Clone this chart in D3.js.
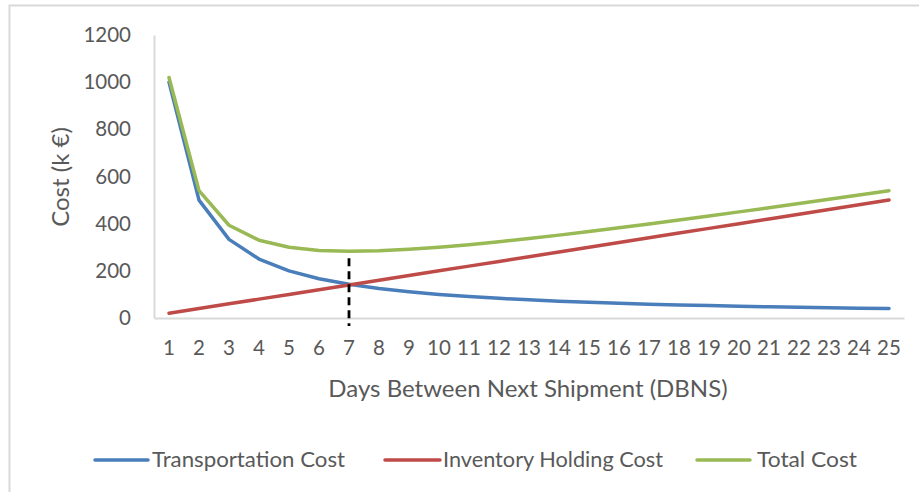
<!DOCTYPE html>
<html><head><meta charset="utf-8">
<script src="https://cdn.jsdelivr.net/npm/d3@7"></script>
<style>body{margin:0;background:#fff}svg{display:block}text{font-family:Lato,"Open Sans",sans-serif;fill:#595959}</style>
</head><body><svg id="c" width="919" height="492"></svg>
<script>
const days = [1,2,3,4,5,6,7,8,9,10,11,12,13,14,15,16,17,18,19,20,21,22,23,24,25];
const transportation = [1000,500,333.3,250,200,166.7,142.9,125,111.1,100,90.9,83.3,76.9,71.4,66.7,62.5,58.8,55.6,52.6,50,47.6,45.5,43.5,41.7,40];
const inventory = [20,40,60,80,100,120,140,160,180,200,220,240,260,280,300,320,340,360,380,400,420,440,460,480,500];
const total = [1020,540,393.3,330,300,286.7,282.9,285,291.1,300,310.9,323.3,336.9,351.4,366.7,382.5,398.8,415.6,432.6,450,467.6,485.5,503.5,521.7,540];
const yTicks = [0,200,400,600,800,1000,1200];
const seriesNames = ["Transportation Cost","Inventory Holding Cost","Total Cost"];
const optimumDay = 7;

const svg = d3.select("#c");
svg.append("path").attr("d","M9.5,492 V5.5 H919").attr("fill","none").attr("stroke","#D9D9D9").attr("stroke-width",2);

const x = d3.scaleBand().domain(days).range([154,904]);
const y = d3.scaleLinear().domain([0,1200]).range([318,35]);
const cx = d => x(d)+x.bandwidth()/2;

// axes
const yAxis = svg.append("g").attr("transform","translate(154,0)")
  .call(d3.axisLeft(y).tickValues(yTicks).tickFormat(d3.format("d")).tickSize(0).tickPadding(23));
yAxis.select(".domain").attr("stroke","#D9D9D9").attr("stroke-width",2);
yAxis.selectAll("text").style("font-size","20.5px").style("font-family","Lato").style("fill","#595959");
const xAxis = svg.append("g").attr("transform","translate(0,318)").call(d3.axisBottom(x).tickSize(0).tickPadding(22));
xAxis.select(".domain").attr("stroke","#D9D9D9").attr("stroke-width",2);
xAxis.selectAll("text").style("font-size","20.5px").style("font-family","Lato").style("fill","#595959");

const colors = ["#4A7EBB","#BE4B48","#98B954"];
const data = [transportation, inventory, total];
const line = d3.line().x((d,i)=>cx(days[i])).y(d=>y(d));
data.forEach((s,k)=>{
  svg.append("path").datum(s).attr("d",line).attr("fill","none")
    .attr("stroke",colors[k]).attr("stroke-width",3.5).attr("stroke-linejoin","round").attr("stroke-linecap","round");
});
// dashed marker at the optimum
svg.append("line").attr("x1",cx(optimumDay)).attr("x2",cx(optimumDay))
  .attr("y1",y(total[days.indexOf(optimumDay)])+7).attr("y2",326)
  .attr("stroke","#000").attr("stroke-width",2.8).attr("stroke-dasharray","8,5");

// axis titles
svg.append("text").attr("x",528).attr("y",397).attr("text-anchor","middle").style("font-size","24px").text("Days Between Next Shipment (DBNS)");
svg.append("text").attr("transform","translate(69,177) rotate(-90)").attr("text-anchor","middle").style("font-size","24px").text("Cost (k €)");

// legend
const legendX = [[95,148,152,193],[385,440,443,220],[697,750,757,100]];
seriesNames.forEach((n,k)=>{
  const [a,b,t,w] = legendX[k];
  svg.append("line").attr("x1",a).attr("x2",b).attr("y1",460).attr("y2",460).attr("stroke",colors[k]).attr("stroke-width",3.5).attr("stroke-linecap","round");
  svg.append("text").attr("x",t).attr("y",467).style("font-size","21px").attr("textLength",w).attr("lengthAdjust","spacingAndGlyphs").text(n);
});
</script></body></html>
